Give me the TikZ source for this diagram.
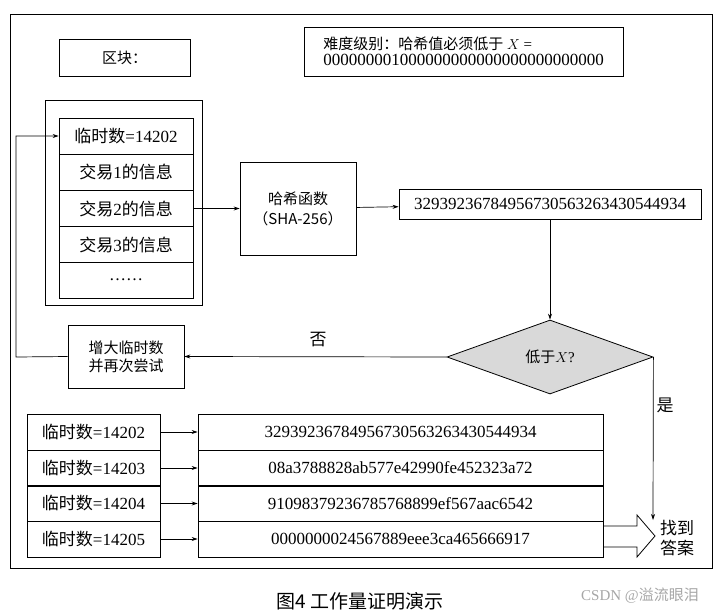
\documentclass[tikz,border=0pt]{standalone}
\usepackage{fontspec}
\setmainfont{Liberation Serif}
\newfontfamily\cjk{Noto Sans CJK SC}
\usetikzlibrary{shapes.geometric,arrows.meta}
\begin{document}
\begin{tikzpicture}[x=1pt,y=-1pt,
  bx/.style={draw,line width=0.8pt,inner sep=0pt},
  ar/.style={-{Stealth[length=6pt,width=4pt]},line width=0.7pt},
  t/.style={font=\fontsize{15}{18}\selectfont},
  n/.style={font=\fontsize{17}{18}\selectfont}]
\useasboundingbox (0,0) rectangle (718,614);
\draw[line width=0.8pt] (10,14) rectangle (712,568);
\node[bx,minimum width=131,minimum height=37,t] (blk) at (124.5,57.5) {\cjk 区块：};
\node[bx,minimum width=319,minimum height=49,align=left,t] (diff) at (463.5,51.5) {{\cjk 难度级别：哈希值必须低于} $X$ =\\[-2pt]{\fontsize{17}{18}\selectfont 000000001000000000000000000000000}};
\node[bx,minimum width=157,minimum height=205] (outer) at (123.5,202.5) {};
\foreach \i/\y/\txt in {0/136/{\cjk 临时数}=14202,1/172/{\cjk 交易}1{\cjk 的信息},2/208.5/{\cjk 交易}2{\cjk 的信息},3/244.5/{\cjk 交易}3{\cjk 的信息},4/280/……}
  \node[bx,minimum width=134,minimum height=36,n] (c\i) at (126,\y) {\txt};
\node[bx,minimum width=116,minimum height=93,align=center,t] (hf) at (298,208.5) {\cjk 哈希函数\\[2pt]\cjk（SHA-256）};
\node[bx,minimum width=302,minimum height=30,n] (res) at (550,204) {32939236784956730563263430544934};
\node[diamond,draw,fill=gray!30,line width=0.8pt,minimum width=206,minimum height=74,inner sep=0pt,aspect=2.8,t] (dm) at (550,357) {{\cjk 低于}$X$?};
\node[bx,minimum width=116,minimum height=63,align=center,t] (inc) at (126,356.5) {\cjk 增大临时数\\\cjk 并再次尝试};
\node[font=\fontsize{17}{18}\selectfont] (no) at (318,340) {\cjk 否};
\node[font=\fontsize{17}{18}\selectfont] (yes) at (665,405) {\cjk 是};
\foreach \i/\y/\a/\h in {0/432/14202/32939236784956730563263430544934,1/468/14203/08a3788828ab577e42990fe452323a72,2/503.5/14204/91098379236785768899ef567aac6542,3/539/14205/0000000024567889eee3ca465666917}{
  \node[bx,minimum width=133,minimum height=36,n] (l\i) at (93.5,\y) {{\cjk 临时数}=\a};
  \node[bx,minimum width=405,minimum height=36,n] (r\i) at (400.5,\y) {\h};
  \draw[ar] (l\i) -- (r\i);
}
\node[font=\fontsize{17}{20}\selectfont,align=center] (ans) at (677,538) {\cjk 找到\\\cjk 答案};
\draw[line width=0.8pt] (r3.east |- 0,526) -- (637,526) -- (637,515) -- (655,536) -- (637,557) -- (637,547) -- (r3.east |- 0,547);
\draw[ar] (c2) -- (hf);
\draw[ar] (hf) -- (res);
\draw[ar] (res.south -| dm.north) -- (dm.north);
\draw[ar] (dm.west) -- (inc.east);
\coordinate (lp) at (16,357);
\draw[ar] (inc.west) -- (lp) |- (c0.west);
\draw[ar] (dm.east) -- (653,520);
\node[font=\cjk\fontsize{19}{20}\selectfont] (cap) at (360,601) {图4 工作量证明演示};
\node[font=\fontsize{15}{18}\selectfont, text=gray!70] (wm) at (640,596) {CSDN @{\cjk 溢流眼泪}};
\end{tikzpicture}
\end{document}
